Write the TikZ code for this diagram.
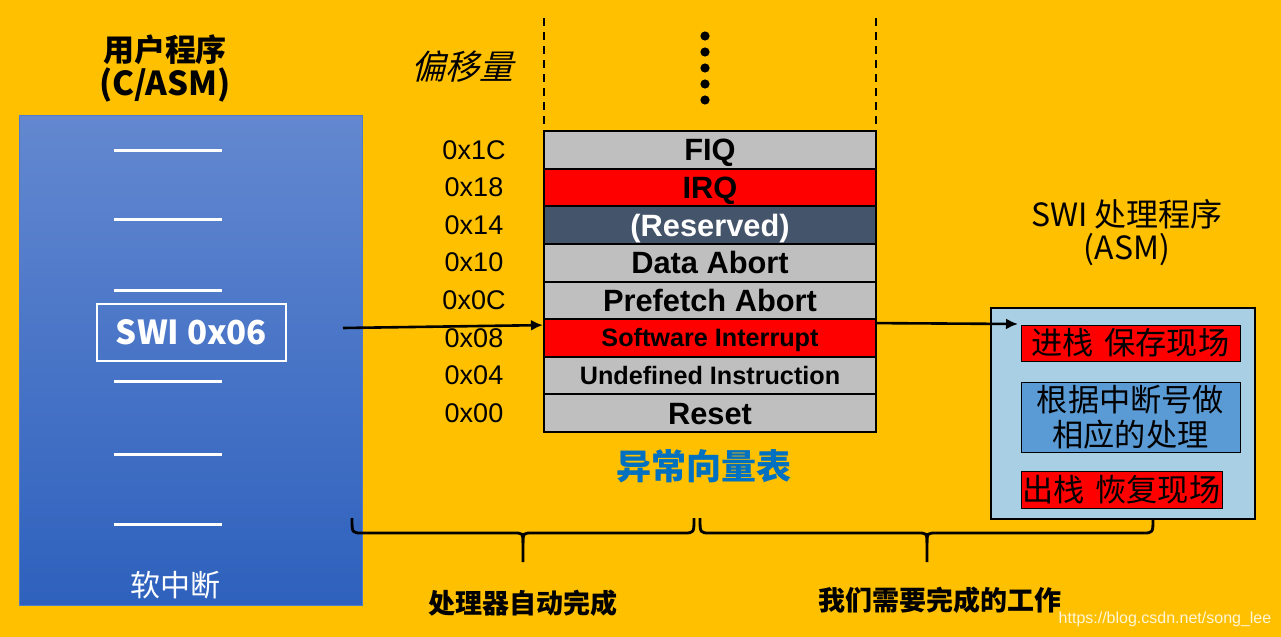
\documentclass[tikz,border=0pt]{standalone}
\usepackage{fontspec}
\setmainfont{Liberation Sans}
\newfontfamily\cjk{Noto Sans CJK SC}
\newfontfamily\cjkit{Noto Sans CJK SC}[FakeSlant=0.25]
\usetikzlibrary{arrows.meta,calc}
\definecolor{bgy}{HTML}{FFC000}
\definecolor{paneltop}{HTML}{6388D0}
\definecolor{panelbot}{HTML}{2E61BD}
\definecolor{panelborder}{HTML}{4F7BCB}
\definecolor{rowgray}{HTML}{BFBFBF}
\definecolor{rowred}{HTML}{FF0000}
\definecolor{rowslate}{HTML}{44546A}
\definecolor{titleblue}{HTML}{0070C0}
\definecolor{rpanel}{HTML}{A8CFE3}
\definecolor{rblue}{HTML}{5B9BD5}
\begin{document}
\begin{tikzpicture}[x=0.5pt,y=-0.5pt,
  wline/.style={white,line width=1.5pt},
  rowbox/.style={draw=black,line width=1pt,minimum width=166pt,minimum height=18.8pt,inner sep=0pt,text height=13pt,text depth=2pt,font=\bfseries\fontsize{15.4}{17}\selectfont},
  smallrow/.style={text height=11pt,text depth=2pt,font=\bfseries\fontsize{12.6}{14}\selectfont},
  offlbl/.style={font=\fontsize{13.5}{15}\selectfont,inner sep=0pt},
  arr/.style={line width=1.3pt,-{Latex[length=6pt,width=5.5pt]}},
  bracepath/.style={line width=1.4pt,black},
  cjkbox/.style={draw=black,line width=0.5pt,inner sep=0pt,font=\cjk\fontsize{15.6}{17.5}\selectfont,align=center},
  vdash/.style={line width=1pt,dash pattern=on 4pt off 3pt}
]
\useasboundingbox (0,0) rectangle (1281,637);
\fill[bgy] (0,0) rectangle (1281,637);

% left title
\node[font=\cjk\bfseries\fontsize{15.5}{17}\selectfont] (lt1) at (165,50) {用户程序};
\node[font=\cjk\bfseries\fontsize{16.5}{18}\selectfont] (lt2) at (165,85) {(C/ASM)};

% left panel
\node[draw=panelborder,line width=0.5pt,top color=paneltop,bottom color=panelbot,minimum width=171.5pt,minimum height=245pt,inner sep=0pt] (lp) at (190.5,360) {};
\draw[wline] (114,150) -- (222,150);
\draw[wline] (114,219) -- (222,219);
\draw[wline] (114,290) -- (222,290);
\draw[wline] (114,381) -- (222,381);
\draw[wline] (114,454) -- (222,454);
\draw[wline] (114,524) -- (222,524);
\node[draw=white,line width=1pt,minimum width=94.5pt,minimum height=28.5pt,inner sep=0pt,text=white,font=\cjk\bfseries\fontsize{16.5}{18}\selectfont] (swi) at (191.5,332.5) {SWI 0x06};
\node[text=white,font=\cjk\fontsize{15}{17}\selectfont] (soft) at (175,585) {软中断};

% offset column
\node[font=\cjkit\fontsize{17}{20}\selectfont] (offt) at (462,67) {偏移量};
\node[offlbl] (o1) at (474,149.8) {0x1C};
\node[offlbl] (o2) at (474,187.4) {0x18};
\node[offlbl] (o3) at (474,225.0) {0x14};
\node[offlbl] (o4) at (474,262.7) {0x10};
\node[offlbl] (o5) at (474,300.3) {0x0C};
\node[offlbl] (o6) at (474,337.9) {0x08};
\node[offlbl] (o7) at (474,375.5) {0x04};
\node[offlbl] (o8) at (474,413.2) {0x00};

% dashed guides and dots
\draw[vdash] (544,18) -- (544,125);
\draw[vdash] (876,18) -- (876,125);
\foreach \yy in {36,52,68,84,100} \fill (705,\yy) circle (2.3pt);

% vector table
\node[rowbox,fill=rowgray] (fiq) at (710,149.8) {FIQ};
\node[rowbox,fill=rowred] (irq) at (710,187.4) {IRQ};
\node[rowbox,fill=rowslate,text=white] (res) at (710,225.0) {(Reserved)};
\node[rowbox,fill=rowgray] (dab) at (710,262.7) {Data Abort};
\node[rowbox,fill=rowgray] (pab) at (710,300.3) {Prefetch Abort};
\node[rowbox,smallrow,fill=rowred] (sw) at (710,337.9) {Software Interrupt};
\node[rowbox,smallrow,fill=rowgray] (und) at (710,375.5) {Undefined Instruction};
\node[rowbox,fill=rowgray] (rst) at (710,413.2) {Reset};
\node[font=\cjk\bfseries\fontsize{17.5}{20}\selectfont,text=titleblue] (vt) at (704,466) {异常向量表};

% right side
\node[font=\cjk\fontsize{16}{18}\selectfont] (rt1) at (1127,214) {SWI 处理程序};
\node[font=\cjk\fontsize{16}{18}\selectfont] (rt2) at (1127,250) {(ASM)};
\node[draw=black,line width=1pt,fill=rpanel,minimum width=132pt,minimum height=105.5pt,inner sep=0pt] (rp) at (1123,413.5) {};
\node[cjkbox,fill=rowred,minimum width=109.5pt,minimum height=18pt] (rb1) at (1130.5,343) {进栈\,\,保存现场};
\node[cjkbox,fill=rblue,minimum width=109.5pt,minimum height=35pt] (rb2) at (1130.5,417) {根据中断号做\\相应的处理};
\node[cjkbox,fill=rowred,minimum width=100.5pt,minimum height=18.5pt] (rb3) at (1121.5,489.5) {出栈\,\,恢复现场};

% arrows
\coordinate (a1s) at (343,328);
\coordinate (a2e) at (1018,324);
\draw[arr] (a1s) -- ($(sw.north west)+(0,7)$);
\draw[arr] ($(sw.north east)+(0,5)$) -- (a2e);

% braces
\coordinate (b1l) at (352,518);
\coordinate (b1m) at (523,562);
\coordinate (b1r) at (694,518);
\coordinate (b2l) at (700,518);
\coordinate (b2m) at (927,562);
\coordinate (b2r) at (1153,518);
\draw[bracepath] (b1l) .. controls (352,533) .. (362,533) -- (513,533) .. controls (523,533) .. (523,543) -- (b1m);
\draw[bracepath] (b1r) .. controls (694,533) .. (684,533) -- (533,533) .. controls (523,533) .. (523,543);
\draw[bracepath] (b2l) .. controls (700,533) .. (710,533) -- (917,533) .. controls (927,533) .. (927,543) -- (b2m);
\draw[bracepath] (b2r) .. controls (1153,533) .. (1143,533) -- (937,533) .. controls (927,533) .. (927,543);
\node[font=\cjk\bfseries\fontsize{13.5}{16}\selectfont] (l1) at (523,603) {处理器自动完成};
\node[font=\cjk\bfseries\fontsize{13.5}{16}\selectfont] (l2) at (940,600) {我们需要完成的工作};

% watermark
\node[text=white,opacity=0.85,font=\fontsize{8}{9}\selectfont,inner sep=0pt] (wm) at (1165,619) {https://blog.csdn.net/song\_lee};
\end{tikzpicture}
\end{document}
